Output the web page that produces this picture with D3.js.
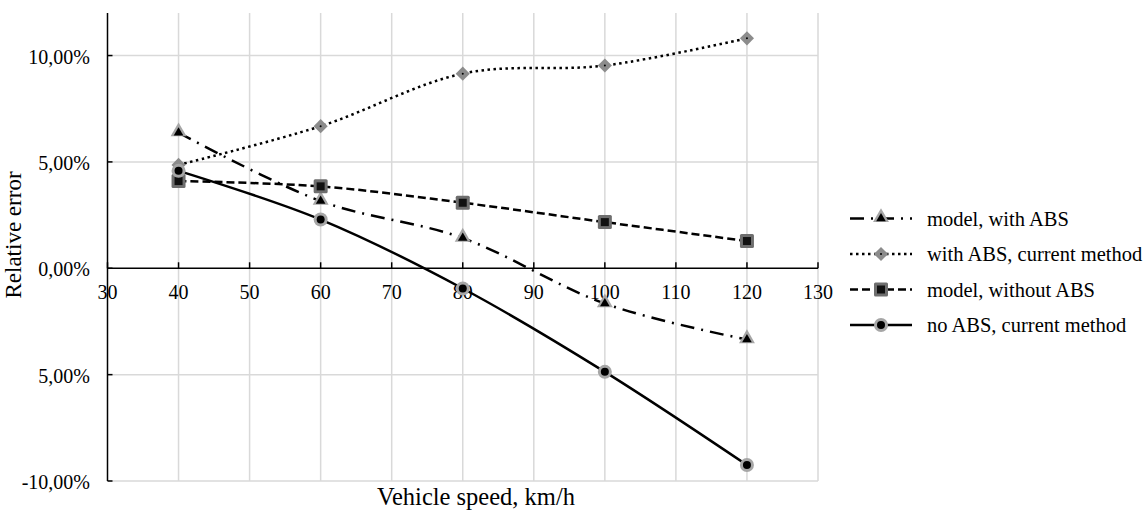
<!DOCTYPE html>
<html><head><meta charset="utf-8">
<script src="https://cdn.jsdelivr.net/npm/d3@7"></script>
<style>
html,body{margin:0;padding:0;background:#fff;}
svg{display:block;}
</style></head>
<body>
<svg id="c" width="1143" height="512"></svg>
<script>
const speeds = [40, 60, 80, 100, 120];
const modelWithABS = [6.37, 3.16, 1.42, -1.66, -3.35];
const withABSCurrent = [4.86, 6.68, 9.15, 9.53, 10.81];
const modelWithoutABS = [4.10, 3.85, 3.08, 2.17, 1.28];
const noABSCurrent = [4.58, 2.29, -0.95, -4.87, -9.25];
const seriesNames = ["model, with ABS", "with ABS, current method", "model, without ABS", "no ABS, current method"];
const xTicks = [30, 40, 50, 60, 70, 80, 90, 100, 110, 120, 130];
const yTicks = [-10, -5, 0, 5, 10];
const yTickLabels = ["-10,00%", "5,00%", "0,00%", "5,00%", "10,00%"];
const xTitle = "Vehicle speed, km/h";
const yTitle = "Relative error";

const FONT = "'Liberation Serif', 'Times New Roman', serif";
const svg = d3.select("#c");
const x = d3.scaleLinear().domain([30, 130]).range([107.5, 818]);
const y = d3.scaleLinear().domain([-10, 12]).range([481, 13]);

// gridlines
const g = svg.append("g");
g.selectAll(".vg").data(xTicks.slice(1)).join("line")
  .attr("x1", d => x(d)).attr("x2", d => x(d))
  .attr("y1", y(12)).attr("y2", y(-10))
  .attr("stroke", "#d9d9d9").attr("stroke-width", 1.5);
g.selectAll(".hg").data(yTicks.filter(v => v !== 0)).join("line")
  .attr("x1", x(30)).attr("x2", x(130))
  .attr("y1", d => y(d)).attr("y2", d => y(d))
  .attr("stroke", "#d9d9d9").attr("stroke-width", 1.5);

// y axis
svg.append("line").attr("x1", x(30)).attr("x2", x(30)).attr("y1", y(12)).attr("y2", y(-10))
  .attr("stroke", "#000").attr("stroke-width", 1.5);
svg.selectAll(".yt").data(yTicks).join("line")
  .attr("x1", x(30)).attr("x2", x(30) + 5)
  .attr("y1", d => y(d)).attr("y2", d => y(d))
  .attr("stroke", "#000").attr("stroke-width", 1.5);
svg.selectAll(".yl").data(yTicks).join("text")
  .attr("x", 90).attr("y", d => y(d) + 8)
  .attr("text-anchor", "end").attr("font-size", 20).style("font-family", FONT).attr("fill", "#000")
  .text((d, i) => yTickLabels[i]);

// x axis at zero
svg.append("line").attr("x1", x(30)).attr("x2", x(130)).attr("y1", y(0)).attr("y2", y(0))
  .attr("stroke", "#000").attr("stroke-width", 1.5);
svg.selectAll(".xt").data(xTicks).join("line")
  .attr("x1", d => x(d)).attr("x2", d => x(d))
  .attr("y1", y(0) - 6).attr("y2", y(0))
  .attr("stroke", "#000").attr("stroke-width", 1.5);
svg.selectAll(".xl").data(xTicks).join("text")
  .attr("x", d => x(d)).attr("y", y(0) + 31)
  .attr("text-anchor", "middle").attr("font-size", 20).style("font-family", FONT).attr("fill", "#000")
  .text(d => d);

// titles
svg.append("text").attr("x", 476).attr("y", 505).attr("text-anchor", "middle")
  .attr("font-size", 24.5).style("font-family", FONT).attr("fill", "#000").text(xTitle);
svg.append("text").attr("transform", "translate(21,235) rotate(-90)").attr("text-anchor", "middle")
  .attr("font-size", 23).style("font-family", FONT).attr("fill", "#000").text(yTitle);

// series
const styles = [
  {dash: "14,7,2,7", marker: "tri"},
  {dash: "2.5,3.5", marker: "dia"},
  {dash: "8,4", marker: "sq"},
  {dash: null, marker: "circ"}
];
const allSeries = [modelWithABS, withABSCurrent, modelWithoutABS, noABSCurrent];
const line = d3.line().x(d => x(d[0])).y(d => y(d[1])).curve(d3.curveCardinal.tension(0));

function drawMarker(sel, type, cx, cy) {
  const m = sel.append("g").attr("transform", `translate(${cx},${cy})`);
  if (type === "tri") {
    m.append("path").attr("d", d3.symbol(d3.symbolTriangle, 110)()).attr("fill", "#a6a6a6").attr("transform", "translate(0,-1)");
    m.append("path").attr("d", d3.symbol(d3.symbolTriangle, 40)()).attr("fill", "#000");
  } else if (type === "dia") {
    m.append("rect").attr("x", -5).attr("y", -5).attr("width", 10).attr("height", 10)
      .attr("fill", "#8c8c8c").attr("transform", "rotate(45)");
    m.append("circle").attr("r", 1).attr("fill", "#000");
  } else if (type === "sq") {
    m.append("rect").attr("x", -7).attr("y", -7).attr("width", 14).attr("height", 14).attr("rx", 1.5)
      .attr("fill", "#6e6e6e");
    m.append("rect").attr("x", -4).attr("y", -4).attr("width", 8).attr("height", 8).attr("fill", "#111");
  } else {
    m.append("circle").attr("r", 7).attr("fill", "#a6a6a6");
    m.append("circle").attr("r", 4).attr("fill", "#000");
  }
}

allSeries.forEach((vals, i) => {
  const pts = speeds.map((s, j) => [s, vals[j]]);
  const p = svg.append("path").attr("d", line(pts)).attr("fill", "none")
    .attr("stroke", "#000").attr("stroke-width", 2.5);
  if (styles[i].dash) p.attr("stroke-dasharray", styles[i].dash);
  const mg = svg.append("g");
  pts.forEach(pt => drawMarker(mg, styles[i].marker, x(pt[0]), y(pt[1])));
});

// legend
const leg = svg.append("g");
seriesNames.forEach((name, i) => {
  const cy = 218.5 + i * 35.5;
  const l = leg.append("line").attr("x1", 850).attr("x2", 912).attr("y1", cy).attr("y2", cy)
    .attr("stroke", "#000").attr("stroke-width", 2.5);
  if (styles[i].dash) l.attr("stroke-dasharray", styles[i].dash);
  drawMarker(leg, styles[i].marker, 881, cy);
  leg.append("text").attr("x", 927).attr("y", cy + 7).attr("font-size", 20.5).style("font-family", FONT).attr("fill", "#000").text(name);
});
</script>
</body></html>
